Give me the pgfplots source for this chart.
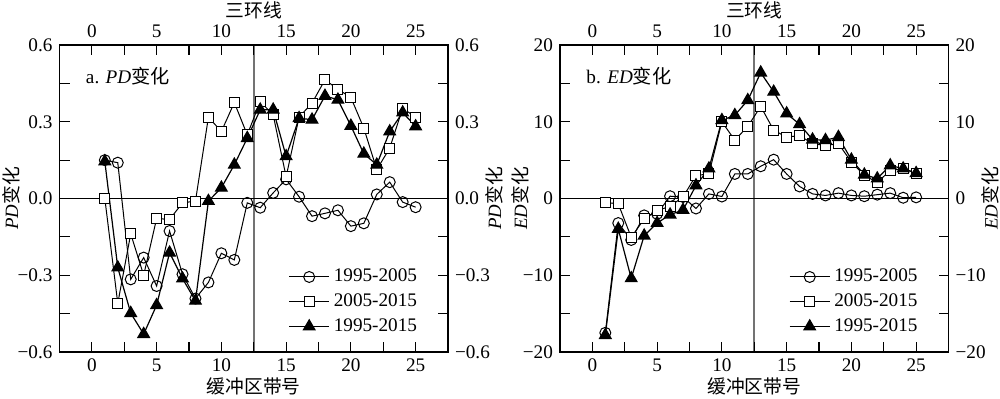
\documentclass[border=0pt]{standalone}
\usepackage{fontspec}
\setmainfont{Liberation Serif}
\newfontfamily\cjk{Noto Sans CJK SC}
\usepackage{pgfplots}
\pgfplotsset{compat=1.18}

\pgfplotstableread{
x a b c
1 0.15 0.0 0.145
2 0.14 -0.41 -0.27
3 -0.316 -0.138 -0.448
4 -0.231 -0.30 -0.53
5 -0.342 -0.078 -0.417
6 -0.127 -0.082 -0.212
7 -0.296 -0.017 -0.313
8 -0.391 -0.01 -0.40
9 -0.328 0.318 -0.01
10 -0.214 0.262 0.042
11 -0.240 0.375 0.132
12 -0.017 0.249 0.236
13 -0.036 0.379 0.347
14 0.022 0.327 0.347
15 0.075 0.085 0.165
16 0.007 0.318 0.314
17 -0.069 0.373 0.308
18 -0.058 0.464 0.401
19 -0.046 0.427 0.386
20 -0.108 0.395 0.284
21 -0.097 0.275 0.175
22 0.016 0.113 0.132
23 0.064 0.197 0.262
24 -0.014 0.353 0.336
25 -0.034 0.318 0.282
}\pdtable

\pgfplotstableread{
x a b c
1 -17.5 -0.5 -17.8
2 -3.2 -0.7 -3.97
3 -5.4 -5.05 -10.4
4 -2.2 -2.66 -4.84
5 -2.0 -1.6 -3.2
6 0.3 -1.0 -2.1
7 0.2 0.2 -1.5
8 -1.3 3.0 1.7
9 0.6 3.2 3.9
10 0.26 10.0 10.2
11 3.2 7.6 10.85
12 3.2 9.4 12.8
13 4.2 12.0 16.4
14 5.06 8.9 13.9
15 3.2 8.0 11.07
16 1.57 8.2 9.67
17 0.6 7.15 7.67
18 0.4 6.9 7.6
19 0.7 7.15 8.0
20 0.4 4.75 5.05
21 0.3 3.0 3.1
22 0.5 2.1 2.6
23 0.7 3.65 4.3
24 0.1 3.9 3.9
25 0.15 3.3 3.3
}\edtable

\tikzset{vline/.style={draw=black!55, line width=0.8pt}}

\pgfplotsset{
  base/.style={
    scale only axis, width=194.25pt, height=153.5pt,
    xmin=-2.5, xmax=27.5,
    xtick={0,5,...,25}, minor xtick={2.5,7.5,12.5,17.5,22.5},
    tick align=inside,
    major tick length=5pt, minor tick length=5pt,
    axis line style={line width=0.6pt},
    every tick/.style={black, line width=0.6pt},
    tick label style={font=\fontsize{9.6}{11}\selectfont},
    label style={font=\fontsize{9.4}{11}\selectfont, inner sep=0pt, anchor=center},
    /pgf/number format/assume math mode=true,
    clip=false,
  },
  lower/.style={xlabel style={at={(axis description cs:0.5,-0.111)}}},
  upper/.style={xticklabel pos=upper, yticklabel pos=right,
    xlabel style={at={(axis description cs:0.5,1.114)}}},
  pdax/.style={ymin=-0.6, ymax=0.6, ytick={-0.6,-0.3,0,0.3,0.6},
    yticklabels={−0.6,−0.3,0.0,0.3,0.6}, minor ytick={-0.45,-0.15,0.15,0.45}},
  edax/.style={ymin=-20, ymax=20, ytick={-20,-10,0,10,20},
    yticklabels={−20,−10,0,10,20}, minor ytick={-15,-5,5,15}},
  circ/.style={black, line width=0.5pt, mark=o, mark size=2.75pt, mark options={fill=white, line width=0.5pt}},
  sq/.style={black, line width=0.5pt, mark=square*, mark size=2.5pt, mark options={fill=white, line width=0.5pt}},
  tri/.style={black, line width=0.6pt, mark=triangle*, mark size=3.3pt, mark options={fill=black}},
  leg/.style={
    legend style={draw=none, fill=none, font=\fontsize{9.6}{11}\selectfont, row sep=0.5pt,
      at={(0.947,0.03)}, anchor=south east},
    legend cell align=left,
    legend image code/.code={\draw[mark repeat=2, mark phase=2, ##1] plot coordinates {(0pt,0pt) (10pt,0pt) (20pt,0pt)};},
  },
}

\begin{document}
\begin{tikzpicture}
% ---------- left panel ----------
\begin{axis}[base, pdax, lower, at={(0pt,0pt)}, anchor=south west,
  xlabel={\cjk 缓冲区带号}, ylabel={\textit{PD}{\cjk 变化}},
  ylabel style={at={(axis description cs:-0.125,0.5)}},
  leg]
  \draw[vline] (axis cs:12.5,-0.6) -- (axis cs:12.5,0.6);
  \draw[black, line width=0.5pt] (axis cs:-2.5,0) -- (axis cs:27.5,0);
  \addplot[circ] table[x=x, y=a] {\pdtable};
  \addplot[sq] table[x=x, y=b] {\pdtable};
  \addplot[tri] table[x=x, y=c] {\pdtable};
  \legend{1995-2005,2005-2015,1995-2015}
  \node[anchor=west, font=\fontsize{9.6}{11}\selectfont] at (rel axis cs:0.05,0.9) {a. \textit{PD}{\cjk 变化}};
\end{axis}
\begin{axis}[base, pdax, upper, at={(0pt,0pt)}, anchor=south west,
  xlabel={\cjk 三环线}, ylabel={\textit{PD}{\cjk 变化}},
  ylabel style={at={(axis description cs:1.118,0.5)}}]
\end{axis}
% ---------- right panel ----------
\begin{axis}[base, edax, lower, at={(250.25pt,0pt)}, anchor=south west,
  xlabel={\cjk 缓冲区带号}, ylabel={\textit{ED}{\cjk 变化}},
  ylabel style={at={(axis description cs:-0.103,0.5)}},
  leg]
  \draw[vline] (axis cs:12.5,-20) -- (axis cs:12.5,20);
  \draw[black, line width=0.5pt] (axis cs:-2.5,0) -- (axis cs:27.5,0);
  \addplot[circ] table[x=x, y=a] {\edtable};
  \addplot[sq] table[x=x, y=b] {\edtable};
  \addplot[tri] table[x=x, y=c] {\edtable};
  \legend{1995-2005,2005-2015,1995-2015}
  \node[anchor=west, font=\fontsize{9.6}{11}\selectfont] at (rel axis cs:0.05,0.9) {b. \textit{ED}{\cjk 变化}};
\end{axis}
\begin{axis}[base, edax, upper, at={(250.25pt,0pt)}, anchor=south west,
  xlabel={\cjk 三环线}, ylabel={\textit{ED}{\cjk 变化}},
  ylabel style={at={(axis description cs:1.108,0.5)}}]
\end{axis}
\pgfresetboundingbox
\path (-29.75pt,-23pt) rectangle (470.25pt,176pt);
\end{tikzpicture}
\end{document}
